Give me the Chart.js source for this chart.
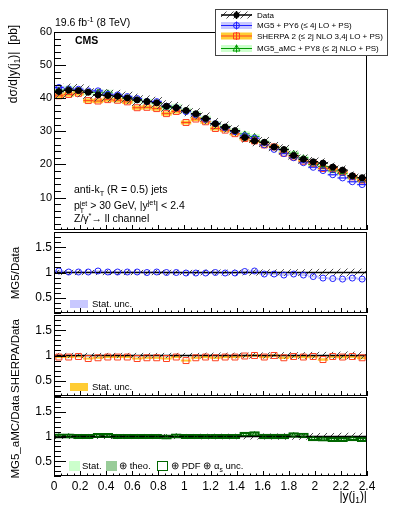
<!DOCTYPE html>
<html>
<head>
<meta charset="utf-8">
<script src="https://cdn.jsdelivr.net/npm/chart.js"></script>
<style>
  body { margin: 0; background: #fff; }
  #page { position: relative; width: 399px; height: 516px; overflow: hidden;
          font-family: "Liberation Sans", Arial, sans-serif; color: #000; }
  #page canvas { position: absolute; left: 0; }
  .lbl { position: absolute; white-space: nowrap; line-height: 1; }
  .ytitle { position: absolute; white-space: nowrap; line-height: 1;
            transform: translate(-50%, -50%) rotate(-90deg); }
  .box { position: absolute; box-sizing: border-box; }
  sub, sup { font-size: 70%; line-height: 0; }
  .st { display: inline-block; font-size: 7px; line-height: 7px; vertical-align: -4px; }
</style>
</head>
<body>
<div id="page">
  <canvas id="cTop" width="399" height="232" style="top:0"></canvas>
  <canvas id="cMg5" width="399" height="96" style="top:224px"></canvas>
  <canvas id="cSherpa" width="399" height="96" style="top:307px"></canvas>
  <canvas id="cAmc" width="399" height="127" style="top:389px"></canvas>

  <div class="lbl" style="left:55px;top:17px;font-size:10.5px">19.6 fb<sup>-1</sup> (8 TeV)</div>
  <div class="lbl" style="left:75px;top:35px;font-size:10.5px;font-weight:bold">CMS</div>
  <div class="lbl" style="left:74px;top:184px;font-size:10.5px">anti-k<sub>T</sub> (R = 0.5) jets</div>
  <div class="lbl" style="left:74px;top:200px;font-size:10.5px">p<span class="st">jet<br>T</span> &gt; 30 GeV, |y<sup>jet</sup>| &lt; 2.4</div>
  <div class="lbl" style="left:74px;top:213px;font-size:10.5px">Z/γ<sup>*</sup>→ ll channel</div>

  <div class="ytitle" style="left:13px;top:64px;font-size:12px">dσ/d|y(j<sub>1</sub>)|&nbsp;&nbsp;[pb]</div>
  <div class="ytitle" style="left:16px;top:273px;font-size:11.5px">MG5/Data</div>
  <div class="ytitle" style="left:16px;top:356px;font-size:11.5px">SHERPA/Data</div>
  <div class="ytitle" style="left:16px;top:437px;font-size:11.5px">MG5_aMC/Data</div>
  <div class="lbl" style="right:32px;top:490px;font-size:12px">|y(j<sub>1</sub>)|</div>

  <div class="box" style="left:70px;top:300px;width:18px;height:8px;background:#c8c8ff"></div>
  <div class="lbl" style="left:92px;top:299px;font-size:9.5px">Stat. unc.</div>
  <div class="box" style="left:70px;top:383px;width:18px;height:8px;background:#ffcc33"></div>
  <div class="lbl" style="left:92px;top:382px;font-size:9.5px">Stat. unc.</div>
  <div class="box" style="left:69px;top:461px;width:11px;height:10px;background:#ccffcc"></div>
  <div class="lbl" style="left:82px;top:461px;font-size:9.5px">Stat.</div>
  <div class="box" style="left:106px;top:461px;width:11px;height:10px;background:#99cc99"></div>
  <div class="lbl" style="left:119px;top:461px;font-size:9.5px">⊕ theo.</div>
  <div class="box" style="left:157px;top:461px;width:11px;height:10px;border:1.5px solid #006600"></div>
  <div class="lbl" style="left:171px;top:461px;font-size:9.5px">⊕ PDF ⊕ α<sub>s</sub> unc.</div>
</div>

<script>
const family = '"Liberation Sans", Arial, sans-serif';

// |y(j1)| bins, 0.075 wide
const binCenters = [0.0375,0.1125,0.1875,0.2625,0.3375,0.4125,0.4875,0.5625,0.6375,0.7125,0.7875,0.8625,
                    0.9375,1.0125,1.0875,1.1625,1.2375,1.3125,1.3875,1.4625,1.5375,1.6125,1.6875,1.7625,
                    1.8375,1.9125,1.9875,2.0625,2.1375,2.2125,2.2875,2.3625];
const xTicks = [0, 0.2, 0.4, 0.6, 0.8, 1, 1.2, 1.4, 1.6, 1.8, 2, 2.2, 2.4];
const yTicksTop = [10, 20, 30, 40, 50, 60];
const yTicksRatio = [0.5, 1, 1.5];

// measured cross section [pb]
const dataXsec = [42.0,42.4,42.3,41.8,41.0,40.8,40.6,40.1,39.5,39.0,38.6,37.6,37.1,36.3,35.3,33.9,
                  32.3,31.3,30.2,28.1,27.1,26.7,25.3,24.5,22.7,21.6,20.8,20.4,19.2,18.3,16.6,16.0];
const dataSystRel = [0.045,0.045,0.045,0.045,0.045,0.045,0.045,0.045,0.045,0.045,0.045,0.045,0.045,0.045,0.045,0.05,
                     0.05,0.05,0.05,0.05,0.055,0.055,0.055,0.06,0.06,0.06,0.065,0.065,0.065,0.07,0.07,0.07];

// prediction / data
const mg5Ratio = [1.03,1.01,1.01,1.01,1.03,1.01,1.01,1.01,1.01,1.0,1.01,1.0,1.0,0.99,0.99,0.99,
                  1.0,0.99,0.99,1.02,1.03,0.97,0.97,0.95,0.97,0.95,0.92,0.89,0.88,0.87,0.89,0.87];
const sherpaRatio = [0.97,0.97,0.98,0.94,0.955,0.97,0.97,0.97,0.94,0.955,0.955,0.94,0.97,0.9,0.955,0.97,
                     0.955,0.97,0.97,0.99,1.0,0.97,1.0,0.955,0.98,0.97,0.98,0.92,0.98,0.97,0.98,0.955];
const amcRatio = [1.01,1.01,1.0,1.0,1.02,1.02,1.0,1.0,1.0,1.0,1.0,0.99,1.01,1.0,1.0,1.0,
                  1.0,1.0,1.0,1.04,1.05,1.0,1.0,1.0,1.03,1.02,0.96,0.95,0.94,0.94,0.96,0.94];

// relative uncertainties of the predictions
const mg5StatRel = [0.008,0.008,0.008,0.008,0.008,0.008,0.008,0.008,0.008,0.008,0.009,0.009,0.009,0.009,0.009,0.01,
                    0.01,0.01,0.01,0.011,0.011,0.011,0.012,0.012,0.012,0.013,0.013,0.014,0.014,0.015,0.015,0.016];
const sherpaStatRel = [0.014,0.014,0.014,0.014,0.014,0.014,0.014,0.014,0.014,0.014,0.015,0.015,0.015,0.015,0.015,0.016,
                       0.016,0.016,0.016,0.017,0.017,0.017,0.018,0.018,0.019,0.019,0.02,0.02,0.021,0.022,0.022,0.023];
const amcStatRel = [0.02,0.02,0.02,0.02,0.02,0.02,0.02,0.02,0.02,0.02,0.02,0.02,0.02,0.02,0.02,0.022,
                    0.022,0.022,0.022,0.022,0.022,0.024,0.024,0.024,0.024,0.025,0.025,0.025,0.026,0.026,0.027,0.027];
const amcTheoRel = [0.035,0.035,0.035,0.035,0.035,0.035,0.035,0.035,0.035,0.035,0.035,0.035,0.035,0.035,0.035,0.036,
                    0.036,0.036,0.036,0.037,0.037,0.037,0.038,0.038,0.038,0.039,0.039,0.039,0.04,0.04,0.04,0.04];
const amcTotRel = [0.045,0.045,0.045,0.045,0.045,0.045,0.045,0.045,0.045,0.045,0.045,0.045,0.045,0.045,0.045,0.046,
                   0.046,0.046,0.046,0.047,0.047,0.047,0.048,0.048,0.048,0.049,0.049,0.049,0.05,0.05,0.05,0.05];

const legendLabels = ['Data', 'MG5 + PY6 (\u2264 4j LO + PS)', 'SHERPA 2 (\u2264 2j NLO 3,4j LO + PS)',
                      'MG5_aMC + PY8 (\u2264 2j NLO + PS)'];

const blue = '#1f1fff', lavender = '#c8c8ff';
const red = '#ff4020', orange = '#ffcc33';
const green = '#009900', darkGreen = '#006600', lightGreen = '#ccffcc', midGreen = '#99cc99';

const half = 0.0375;
const ones = dataXsec.map(() => 1);
const mg5 = dataXsec.map((d, i) => d * mg5Ratio[i]);
const sherpa = dataXsec.map((d, i) => d * sherpaRatio[i]);
const amc = dataXsec.map((d, i) => d * amcRatio[i]);

const pts = vals => vals.map((v, i) => ({x: binCenters[i], y: v}));
const segs = vals => vals.flatMap((v, i) => [
  {x: binCenters[i] - half, y: v}, {x: binCenters[i] + half, y: v}, {x: binCenters[i] + half, y: null}
]);
const band = (vals, rel) => vals.map((v, i) => ({x: binCenters[i], y: [v * (1 - rel[i]), v * (1 + rel[i])]}));

function hatch(ctx) {
  const c = document.createElement('canvas');
  c.width = 7; c.height = 7;
  const g = c.getContext('2d');
  g.strokeStyle = '#4a4a4a';
  g.lineWidth = 1;
  g.beginPath();
  g.moveTo(0, 7); g.lineTo(7, 0);
  g.moveTo(-1, 1); g.lineTo(1, -1);
  g.moveTo(6, 8); g.lineTo(8, 6);
  g.stroke();
  return ctx.createPattern(c, 'repeat');
}

function barSet(data, color, order, extra) {
  return Object.assign({type: 'bar', data, backgroundColor: color, borderWidth: 0, order,
    barPercentage: 1, categoryPercentage: 1, grouped: false}, extra || {});
}
function lineSet(data, color, order, width) {
  return {type: 'line', data, borderColor: color, borderWidth: width || 1, pointRadius: 0, order};
}
function markSet(data, color, style, radius, fill, order) {
  return {type: 'line', data, showLine: false, pointStyle: style, pointRadius: radius,
    pointBorderColor: color, pointBackgroundColor: fill, pointBorderWidth: 1, order};
}

// ROOT-like frame with ticks pointing inwards
const rootFrame = {
  id: 'rootFrame',
  afterDatasetsDraw(chart, args, opts) {
    const {ctx, chartArea: a} = chart;
    const x = chart.scales.x, y = chart.scales.y;
    ctx.save();
    ctx.strokeStyle = '#000';
    ctx.lineWidth = 1;
    ctx.beginPath();
    for (let k = 0; k <= 48; k++) {
      const px = Math.round(x.getPixelForValue(k * 0.05)) + 0.5;
      const len = k % 4 === 0 ? 5 : 2.5;
      ctx.moveTo(px, a.bottom); ctx.lineTo(px, a.bottom - len);
    }
    const k0 = Math.ceil(y.min / opts.minor - 1e-6), k1 = Math.floor(y.max / opts.minor + 1e-6);
    for (let k = k0; k <= k1; k++) {
      const v = k * opts.minor;
      const major = Math.abs(v / opts.major - Math.round(v / opts.major)) < 1e-6;
      const py = Math.round(y.getPixelForValue(v)) + 0.5;
      ctx.moveTo(a.left, py); ctx.lineTo(a.left + (major ? 12 : 7), py);
    }
    ctx.stroke();
    ctx.strokeRect(a.left + 0.5, a.top + 0.5, a.width - 1, a.height - 1);
    ctx.restore();
  }
};

const legendBox = {
  id: 'legendBox',
  afterDraw(chart) {
    const ctx = chart.ctx;
    const rows = [15, 25.5, 36, 48.5];
    const x0 = 221, x1 = 252, xc = 236.5;
    ctx.save();
    ctx.fillStyle = '#fff';
    ctx.fillRect(215, 9, 172, 46);
    ctx.strokeStyle = '#444';
    ctx.lineWidth = 1;
    ctx.strokeRect(215.5, 9.5, 172, 46);

    const bands = [hatch(ctx), lavender, orange, lightGreen];
    const lines = ['#000', blue, red, green];
    rows.forEach((ry, i) => {
      ctx.fillStyle = bands[i];
      ctx.fillRect(x0, ry - 3.5, x1 - x0, 7);
      ctx.strokeStyle = lines[i];
      ctx.lineWidth = i === 0 ? 1.5 : 1;
      ctx.beginPath();
      ctx.moveTo(x0, ry); ctx.lineTo(x1, ry);
      ctx.moveTo(xc, ry - 4); ctx.lineTo(xc, ry + 4);
      ctx.stroke();
      ctx.lineWidth = 1;
      ctx.beginPath();
      if (i === 0) {
        ctx.fillStyle = '#000';
        ctx.arc(xc, ry, 3, 0, Math.PI * 2);
        ctx.fill();
      } else if (i === 1) {
        ctx.arc(xc, ry, 3, 0, Math.PI * 2);
        ctx.stroke();
      } else if (i === 2) {
        ctx.rect(xc - 3, ry - 3, 6, 6);
        ctx.stroke();
      } else {
        ctx.moveTo(xc, ry - 3.5); ctx.lineTo(xc + 3.5, ry + 2.5); ctx.lineTo(xc - 3.5, ry + 2.5);
        ctx.closePath();
        ctx.stroke();
      }
      ctx.fillStyle = '#000';
      ctx.font = '8px ' + family;
      ctx.textBaseline = 'middle';
      ctx.fillText(legendLabels[i], 257, ry + 0.5);
    });
    ctx.restore();
  }
};

function options(p) {
  return {
    responsive: false,
    animation: false,
    events: [],
    layout: {autoPadding: false, padding: {left: 0, right: 32, top: p.top, bottom: p.bottom}},
    plugins: {legend: {display: false}, tooltip: {enabled: false}, rootFrame: {minor: p.minor, major: p.major}},
    scales: {
      x: {
        type: 'linear', min: 0, max: 2.4, offset: false, display: p.showX,
        grid: {display: false, drawTicks: false}, border: {display: false},
        afterBuildTicks: s => { s.ticks = xTicks.map(v => ({value: v})); },
        afterFit: s => { s.height = p.showX ? 40 : 0; s.paddingLeft = 0; s.paddingRight = 0; },
        ticks: {autoSkip: false, maxRotation: 0, padding: 3, color: '#000', font: {family, size: 12},
                callback: v => String(+v.toFixed(1))}
      },
      y: {
        min: p.min, max: p.max,
        grid: {display: false, drawTicks: false}, border: {display: false},
        afterBuildTicks: s => { s.ticks = p.ticks.map(v => ({value: v})); },
        afterFit: s => { s.width = 54; s.paddingTop = 0; s.paddingBottom = 0; },
        ticks: {padding: 2, color: '#000', font: {family, size: p.fontSize}, callback: v => String(v)}
      }
    }
  };
}

function ratioBase(ctx) {
  return [
    barSet(band(ones, dataSystRel), hatch(ctx), 6),
    lineSet(segs(ones), '#000', 2, 1.5)
  ];
}

// top panel
const ctxTop = document.getElementById('cTop').getContext('2d');
new Chart(ctxTop, {
  type: 'bar',
  data: {datasets: [
    barSet(band(amc, amcStatRel), lightGreen, 20),
    barSet(band(sherpa, sherpaStatRel), orange, 19),
    barSet(band(mg5, mg5StatRel), lavender, 18),
    lineSet(segs(amc), green, 14),
    lineSet(segs(sherpa), red, 13),
    lineSet(segs(mg5), blue, 12),
    markSet(pts(amc), darkGreen, 'triangle', 3, 'rgba(0,0,0,0)', 10),
    markSet(pts(sherpa), red, 'rect', 4.2, 'rgba(0,0,0,0)', 9),
    markSet(pts(mg5), blue, 'circle', 3, 'rgba(0,0,0,0)', 8),
    barSet(band(dataXsec, dataSystRel), hatch(ctxTop), 6),
    lineSet(segs(dataXsec), '#000', 2, 1.5),
    markSet(pts(dataXsec), '#000', 'circle', 3, '#000', 1)
  ]},
  options: options({top: 32, bottom: 2, min: 0.2, max: 60, ticks: yTicksTop, fontSize: 11,
                    minor: 2, major: 10, showX: false}),
  plugins: [rootFrame, legendBox]
});

// MG5 / data
const ctxMg5 = document.getElementById('cMg5').getContext('2d');
new Chart(ctxMg5, {
  type: 'bar',
  data: {datasets: [
    barSet(band(mg5Ratio, mg5StatRel), lavender, 10),
    ...ratioBase(ctxMg5),
    markSet(pts(mg5Ratio), blue, 'circle', 3, 'rgba(0,0,0,0)', 1)
  ]},
  options: options({top: 8, bottom: 7, min: 0.2, max: 1.8, ticks: yTicksRatio, fontSize: 12,
                    minor: 0.1, major: 0.5, showX: false}),
  plugins: [rootFrame]
});

// SHERPA / data
const ctxSherpa = document.getElementById('cSherpa').getContext('2d');
new Chart(ctxSherpa, {
  type: 'bar',
  data: {datasets: [
    barSet(band(sherpaRatio, sherpaStatRel), orange, 10),
    ...ratioBase(ctxSherpa),
    markSet(pts(sherpaRatio), red, 'rect', 4.2, 'rgba(0,0,0,0)', 1)
  ]},
  options: options({top: 8, bottom: 7, min: 0.2, max: 1.8, ticks: yTicksRatio, fontSize: 12,
                    minor: 0.1, major: 0.5, showX: false}),
  plugins: [rootFrame]
});

// MG5_aMC / data
const ctxAmc = document.getElementById('cAmc').getContext('2d');
new Chart(ctxAmc, {
  type: 'bar',
  data: {datasets: [
    barSet(band(amcRatio, amcTheoRel), midGreen, 12),
    barSet(band(amcRatio, amcStatRel), lightGreen, 11),
    ...ratioBase(ctxAmc),
    barSet(band(amcRatio, amcTotRel), 'rgba(0,0,0,0)', 3, {borderColor: darkGreen, borderWidth: 1.5, borderSkipped: false}),
    markSet(pts(amcRatio), darkGreen, 'triangle', 2.5, 'rgba(0,0,0,0)', 1)
  ]},
  options: options({top: 8, bottom: 0, min: 0.2, max: 1.8, ticks: yTicksRatio, fontSize: 12,
                    minor: 0.1, major: 0.5, showX: true}),
  plugins: [rootFrame]
});
</script>
</body>
</html>
